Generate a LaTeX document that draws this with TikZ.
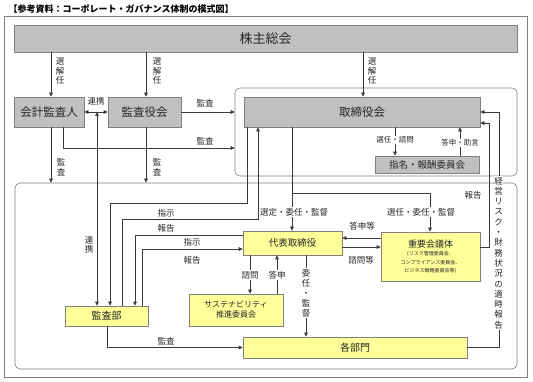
\documentclass[tikz,border=0pt]{standalone}
\usepackage{fontspec}
\setmainfont{Noto Sans CJK JP}
\usetikzlibrary{arrows.meta,calc}
\definecolor{boxgray}{HTML}{C0C0C0}
\definecolor{boxyel}{HTML}{FFFF99}
\definecolor{edge}{HTML}{808080}
\definecolor{ink}{HTML}{3A3A3A}
\newcommand{\myfs}[2]{\fontsize{#1}{#2}\selectfont}
\tikzset{
  conn/.style={draw=ink, line width=0.6pt},
  arr/.style={conn, -{Triangle[length=4pt,width=3.6pt]}},
  darr/.style={conn, {Triangle[length=4pt,width=3.6pt]}-{Triangle[length=4pt,width=3.6pt]}},
  box/.style={draw=edge, line width=0.6pt, inner sep=0pt, text=black!85},
  gbox/.style={box, fill=boxgray},
  ybox/.style={box, fill=boxyel},
  area/.style={draw=edge, line width=0.6pt, rounded corners=5pt, inner sep=0pt},
  lbl/.style={font=\myfs{8.5}{9.5}, inner sep=0.6pt, text=black!85, align=center},
  wlbl/.style={lbl, fill=white},
}
\begin{document}
\begin{tikzpicture}[x=1pt,y=-1pt]
\useasboundingbox (0,0) rectangle (533,382);
\fill[white] (0,0) rectangle (533,382);

% title and frames
\node[anchor=west, inner sep=0pt, font=\bfseries\myfs{9}{11}] (title) at (8.5,9) {【参考資料：コーポレート・ガバナンス体制の模式図】};
\node[draw=edge, line width=0.6pt, inner sep=0pt, minimum width=523, minimum height=361] (frame) at (265.5,196.5) {};
\node[area, minimum width=282, minimum height=88] (upA) at (376,132) {};
\node[area, minimum width=502, minimum height=186] (loA) at (266,276) {};

% boxes
\node[gbox, minimum width=503, minimum height=27, font=\myfs{13}{15}] (kab) at (265.5,38.5) {株主総会};
\node[gbox, minimum width=70, minimum height=30, font=\myfs{11.5}{13}] (kai) at (49,112) {会計監査人};
\node[gbox, minimum width=73, minimum height=30, font=\myfs{11.5}{13}] (kyk) at (144.5,112) {監査役会};
\node[gbox, minimum width=236, minimum height=30, font=\myfs{11.5}{13}] (tor) at (362,112) {取締役会};
\node[gbox, minimum width=104, minimum height=17, font=\myfs{9.5}{11}] (shm) at (427,164.5) {指名・報酬委員会};
\node[ybox, minimum width=99, minimum height=24, font=\myfs{9.5}{11}] (dai) at (292.5,243) {代表取締役};
\node[ybox, minimum width=99, minimum height=49, align=center, font=\myfs{5}{8.5}] (juy) at (430.5,256.5) {{\myfs{9}{10}重要会議体}\\(リスク管理委員会、\\コンプライアンス委員会、\\ビジネス戦略委員会等)};
\node[ybox, minimum width=94, minimum height=32, align=center, font=\myfs{8}{10}] (sus) at (236,310) {サステナビリティ\\推進委員会};
\node[ybox, minimum width=83, minimum height=20, font=\myfs{10}{12}] (kbu) at (106.5,316) {監査部};
\node[ybox, minimum width=224, minimum height=21, font=\myfs{10}{12}] (kak) at (355,347.5) {各部門};

% shareholders meeting
\draw[arr] (51,0 |- kab.south) -- (51,0 |- kai.north);
\node[lbl] (s1) at (60,71) {選\\解\\任};
\draw[arr] (146,0 |- kab.south) -- (146,0 |- kyk.north);
\node[lbl] (s2) at (157,71) {選\\解\\任};
\draw[arr] (363,0 |- kab.south) -- (363,0 |- tor.north);
\node[lbl] (s3) at (372,71) {選\\解\\任};

% auditors
\draw[darr] (kai.east) -- (kyk.west);
\node[lbl] (rk1) at (96,101) {連携};
\draw[arr] (kyk.east) -- (upA.west |- kyk.east);
\node[lbl] (ks1) at (205,103) {監査};
\draw[arr] (63,0 |- kai.south) |- (upA.west |- 0,148);
\node[lbl] (ks2) at (205,141) {監査};
\draw[arr] (51,0 |- kai.south) -- (51,0 |- loA.north);
\node[lbl] (ks3) at (61,167) {監\\査};
\draw[arr] (146,0 |- kyk.south) -- (146,0 |- loA.north);
\node[lbl] (ks4) at (157,167) {監\\査};
\draw[darr] (97,0 |- kbu.north) -- (97,0 |- kai.east);
\node[lbl] (rk2) at (89,245) {連\\携};

% board <-> audit dept
\draw[arr] (247,0 |- tor.south) |- (110,203) -- (110,0 |- kbu.north);
\node[lbl] (sj1) at (166,213) {指示};
\draw[arr] (122,0 |- kbu.north) |- (258,219) -- (258,0 |- tor.south);
\node[lbl] (hk1) at (166,228) {報告};
\draw[arr] (dai.west |- 0,235) -| (135,0 |- kbu.north);
\node[lbl] (sj2) at (192,242) {指示};
\draw[arr] (142,0 |- kbu.north) |- (dai.west |- 0,249);
\node[lbl] (hk2) at (192,260) {報告};

% board -> representative / committees
\draw[arr] (292,0 |- tor.south) -- (292,0 |- dai.north);
\draw[arr] (292,193) -| (430,0 |- juy.north);
\node[wlbl] (sn1) at (294,212) {選定・委任・監督};
\node[wlbl] (sn2) at (421,212) {選任・委任・監督};
\draw[arr] (395,0 |- tor.south) -- (395,0 |- shm.north);
\node[wlbl, font=\myfs{7.5}{9}] (sm) at (395,140) {選任・諮問};
\draw[arr] (460,0 |- shm.north) -- (460,0 |- tor.south);
\node[wlbl, font=\myfs{7.5}{9}] (tj) at (460,143) {答申・助言};

% representative <-> important meetings
\draw[arr] (juy.west |- 0,238) -- (dai.east |- 0,238);
\node[lbl] (tt) at (362,226) {答申等};
\draw[arr] (dai.east |- 0,247) -- (juy.west |- 0,247);
\node[lbl] (sm2) at (361,260) {諮問等};

% representative <-> sustainability / departments
\draw[arr] (250,0 |- dai.south) -- (250,0 |- sus.north);
\node[wlbl] (sm3) at (250,275) {諮問};
\draw[arr] (277,0 |- sus.north) -- (277,0 |- dai.south);
\node[wlbl] (tj2) at (277,275) {答申};
\draw[arr] (306,0 |- dai.south) -- (306,0 |- kak.north);
\node[wlbl, font=\myfs{8.5}{10}] (ik) at (306,293) {委\\任\\・\\監\\督};

% audit dept -> departments
\draw[arr] (107,0 |- kbu.south) |- (kak.west);
\node[lbl] (ks5) at (166,341) {監査};

% reports to board
\draw[arr] (juy.east |- 0,247) -| (489,123) -- (tor.east |- 0,123);
\node[lbl] (hk3) at (473,195) {報告};
\draw[arr] (kak.east) -| (499,112) -- (tor.east |- 0,112);
\node[wlbl, font=\myfs{8.5}{10.3}] (keiei) at (498.5,253) {経\\営\\リ\\ス\\ク\\・\\財\\務\\状\\況\\の\\適\\時\\報\\告};
\end{tikzpicture}
\end{document}
